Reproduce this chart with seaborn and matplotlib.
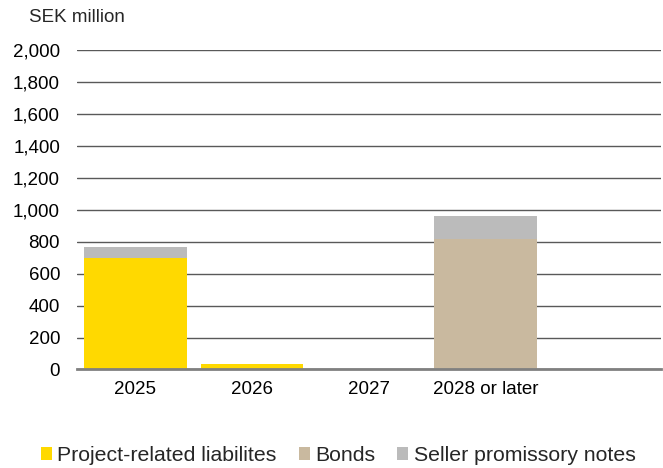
import matplotlib
matplotlib.use("Agg")
import matplotlib.pyplot as plt
from matplotlib.patches import Patch
from matplotlib.ticker import FuncFormatter
import numpy as np
import pandas as pd
import seaborn as sns

# Maturity profile, SEK million
categories = ["2025", "2026", "2027", "2028 or later", " "]
project_related = [700, 35, 0, 0, 0]
bonds = [0, 0, 0, 820, 0]
seller_notes = [70, 0, 0, 140, 0]

series_names = ["Project-related liabilites", "Bonds", "Seller promissory notes"]
colors = ["#FFD900", "#C9B99F", "#BBBBBB"]

sns.set_theme(style="white")
plt.rcParams["font.family"] = ["Liberation Sans", "DejaVu Sans"]

df = pd.DataFrame({
    "category": categories,
    "project": project_related,
    "bonds": bonds,
    "seller": seller_notes,
})
df["cum1"] = df["project"]
df["cum2"] = df["cum1"] + df["bonds"]
df["cum3"] = df["cum2"] + df["seller"]

fig = plt.figure(figsize=(6.63, 4.68), dpi=100)
ax = fig.add_axes([0.1157, 0.2105, 0.8813, 0.6825])

# stacked bars: draw cumulative totals from the top layer down
for col, color in zip(["cum3", "cum2", "cum1"], colors[::-1]):
    sns.barplot(data=df, x="category", y=col, order=categories, color=color,
                width=0.88, saturation=1, ax=ax, zorder=3, linewidth=0)

ax.set_ylim(0, 2000)
ax.set_xlim(-0.5, len(categories) - 0.5)
ax.set_yticks(np.arange(0, 2001, 200))
ax.yaxis.set_major_formatter(FuncFormatter(lambda v, p: f"{int(v):,}"))
ax.set_xlabel("")
ax.set_ylabel("")
ax.grid(axis="y", color="#595959", linewidth=1.0, zorder=0)
ax.set_axisbelow(True)
for s in ["left", "right", "top"]:
    ax.spines[s].set_visible(False)
ax.spines["bottom"].set_color("#808080")
ax.spines["bottom"].set_linewidth(2.0)
ax.spines["bottom"].set_zorder(4)
ax.tick_params(axis="y", length=0, pad=12, labelsize=13.5, labelcolor="#000000")
ax.tick_params(axis="x", length=0, pad=8, labelsize=13.5, labelcolor="#000000")

fig.text(0.043, 0.962, "SEK million", fontsize=13.5, ha="left", va="center")

handles = [Patch(facecolor=c, edgecolor="none") for c in colors]
fig.legend(handles, series_names, loc="center", bbox_to_anchor=(0.51, 0.027),
           ncol=3, frameon=False, fontsize=15.3, handlelength=0.52, handleheight=0.52,
           handletextpad=0.25, columnspacing=1.05)

fig.savefig("out.png", dpi=100)
